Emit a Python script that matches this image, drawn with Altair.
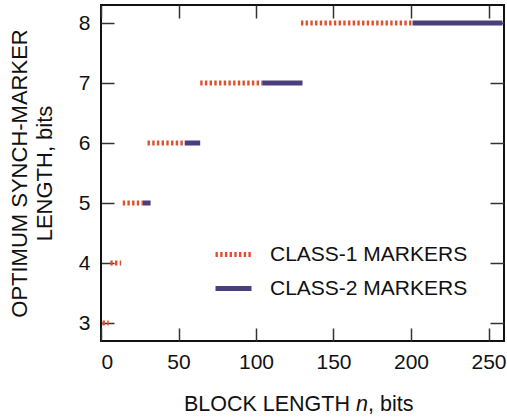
import altair as alt
import pandas as pd

# Segment data
marker_len = [3, 4, 5, 6, 7, 8, 5, 6, 7, 8]
n_start = [1, 6, 14, 30, 64, 129, 27, 54, 104, 201]
n_end = [5, 13, 27, 54, 104, 201, 32, 64, 130, 259]
marker_class = ["CLASS-1 MARKERS"] * 6 + ["CLASS-2 MARKERS"] * 4

x_ticks = [0, 50, 100, 150, 200, 250]
y_ticks = [3, 4, 5, 6, 7, 8]

x_title_parts = ["BLOCK LENGTH", "n", ", bits"]
y_title_lines = ["OPTIMUM SYNCH-MARKER", "LENGTH, bits"]

df = pd.DataFrame({"y": marker_len, "x": n_start, "x2": n_end, "cls": marker_class})

FONT = "Liberation Sans"
RED = "#e0502f"
NAVY = "#4a3f7c"
TXT = "#111"

legend = alt.Legend(
    orient="none", legendX=112, legendY=229, title=None,
    symbolType="stroke", symbolSize=1296, symbolStrokeWidth=5,
    labelFontSize=21, labelFont=FONT, labelColor=TXT, labelLimit=0,
    labelOffset=16, rowPadding=3, padding=0,
)

xscale = alt.Scale(domain=[0, 260], nice=False, zero=False)
yscale = alt.Scale(domain=[2.7, 8.3], nice=False, zero=False)

base_x_axis = alt.Axis(
    values=x_ticks, orient="bottom", offset=-13, tickSize=13, domain=False,
    grid=False, labelPadding=10, labelFontSize=21, labelFont=FONT, labelColor=TXT,
    tickColor="#333", tickWidth=1.5, title=None,
)
base_y_axis = alt.Axis(
    values=y_ticks, orient="left", offset=-13, tickSize=13, domain=False,
    grid=False, labelPadding=11, labelFontSize=21, labelFont=FONT, labelColor=TXT,
    tickColor="#333", tickWidth=1.5,
    title=y_title_lines, titleFontSize=22, titleFont=FONT,
    titleFontWeight="normal", titleColor=TXT, titlePadding=22, titleLineHeight=25,
)

cls_domain = ["CLASS-1 MARKERS", "CLASS-2 MARKERS"]
main = alt.Chart(df).mark_rule(strokeWidth=5, strokeCap="butt").encode(
    x=alt.X("x:Q", scale=xscale, axis=base_x_axis),
    x2="x2",
    y=alt.Y("y:Q", scale=yscale, axis=base_y_axis),
    color=alt.Color("cls:N", scale=alt.Scale(domain=cls_domain, range=[RED, NAVY]), legend=legend),
    strokeDash=alt.StrokeDash("cls:N", scale=alt.Scale(domain=cls_domain, range=[[2.4, 2.3], [1, 0]]), legend=legend),
)

mirror = alt.Chart(df).mark_rule(opacity=0).encode(
    x=alt.X("x:Q", scale=xscale, axis=alt.Axis(values=x_ticks, orient="top", offset=-13, tickSize=13, domain=False, grid=False, labels=False, title=None, tickColor="#333", tickWidth=1.5)),
    x2="x2",
    y=alt.Y("y:Q", scale=yscale, axis=alt.Axis(values=y_ticks, orient="right", offset=-14, tickSize=14, domain=False, grid=False, labels=False, title=None, tickColor="#333", tickWidth=1.5)),
)

# x-axis title with an italic "n"
title_style = dict(font=FONT, fontSize=21.5, color=TXT, baseline="alphabetic")
t1 = alt.Chart(pd.DataFrame({"t": [x_title_parts[0]]})).mark_text(align="right", **title_style).encode(
    text="t:N", x=alt.value(249), y=alt.value(406))
t2 = alt.Chart(pd.DataFrame({"t": [x_title_parts[1]]})).mark_text(align="left", fontStyle="italic", **title_style).encode(
    text="t:N", x=alt.value(255), y=alt.value(406))
t3 = alt.Chart(pd.DataFrame({"t": [x_title_parts[2]]})).mark_text(align="left", **title_style).encode(
    text="t:N", x=alt.value(267), y=alt.value(406))

chart = alt.layer(main, mirror, t1, t2, t3).resolve_axis(x="independent", y="independent").properties(
    width=403, height=336,
    autosize=alt.AutoSizeParams(type="none"),
    padding={"left": 101, "top": 5, "right": 3, "bottom": 77},
).configure_view(stroke="#111", strokeWidth=2)

chart.save("out.html", embed_options={"renderer": "svg", "actions": False})
